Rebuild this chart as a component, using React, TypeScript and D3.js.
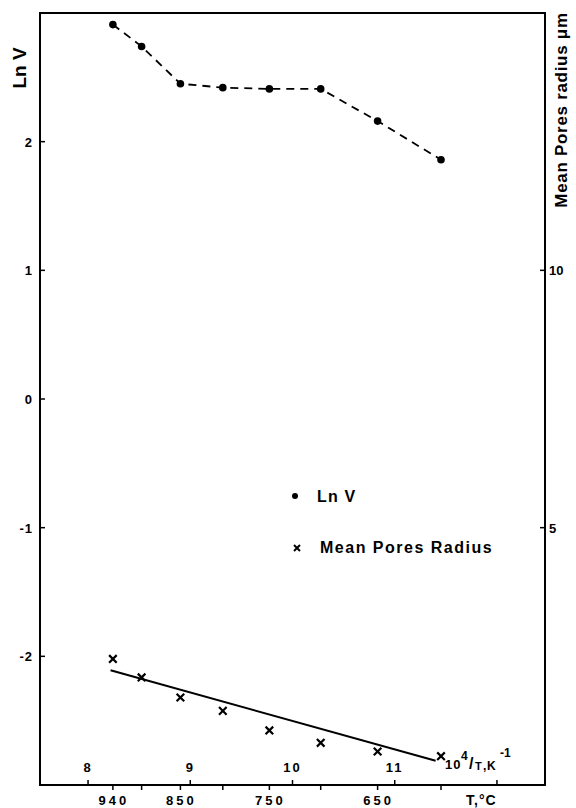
import React from 'react';
import * as d3 from 'd3';

// temperature (°C) of each measurement
const temps = [940, 900, 850, 800, 750, 700, 650, 600];
const lnV = [2.91, 2.74, 2.45, 2.42, 2.41, 2.41, 2.16, 1.86];
const radius = [2.45, 2.09, 1.70, 1.44, 1.06, 0.82, 0.65, 0.56];
// fitted straight line through the radius points (10^4/T, radius)
const fitInvT = [8.22, 11.40];
const fitRadius = [2.23, 0.47];

const lnTicks = [-2, -1, 0, 1, 2];
const radiusTicks = [5, 10];
const invTTicks = [8, 9, 10, 11, 12];
const invTLabels = ['8', '9', '10', '11', ''];
const tempTicks = [940, 900, 850, 800, 750, 700, 650, 600];
const tempLabels = ['940', '', '850', '', '750', '', '650', ''];

const W = 576, H = 808;
const left = 40, right = 545, top = 13, bottom = 785;
const font = '"Liberation Sans", Arial, sans-serif';

const invT = (t: number) => 1e4 / (t + 273.15);

function App() {
  const x = d3.scaleLinear().domain([7.53, 12.47]).range([left, right]);
  const yL = d3.scaleLinear().domain([-3, 3]).range([bottom, top]);
  const yR = d3.scaleLinear().domain([0, 15]).range([bottom, top]);

  const lnLine = d3.line<number>()
    .x((d, i) => x(invT(temps[i])))
    .y(d => yL(d));
  const fitLine = d3.line<number>()
    .x((d, i) => x(fitInvT[i]))
    .y(d => yR(d));

  const cross = (cx: number, cy: number, s = 3.8) =>
    `M${cx - s},${cy - s}L${cx + s},${cy + s}M${cx - s},${cy + s}L${cx + s},${cy - s}`;

  return (
    <svg width={W} height={H} style={{position: 'absolute', left: 0, top: 0, background: '#fff'}}
      fontFamily={font} fontWeight="bold">
      {/* frame */}
      <rect x={left} y={top} width={right - left} height={bottom - top} fill="none" stroke="#000" strokeWidth={2} />

      {/* left axis */}
      {lnTicks.map(t => (
        <g key={'l' + t}>
          <line x1={left} x2={left + 5} y1={yL(t)} y2={yL(t)} stroke="#000" strokeWidth={1.5} />
          <text x={33} y={yL(t) + 5} textAnchor="end" fontSize={13} letterSpacing={1}>{t < 0 ? '-' + Math.abs(t) : t}</text>
        </g>
      ))}
      <text transform={`translate(26,68) rotate(-90)`} textAnchor="middle" fontSize={19}>Ln V</text>

      {/* right axis */}
      {radiusTicks.map(t => (
        <g key={'r' + t}>
          <line x1={right - 5} x2={right} y1={yR(t)} y2={yR(t)} stroke="#000" strokeWidth={1.5} />
          <text x={549} y={yR(t) + 5} fontSize={13}>{t}</text>
        </g>
      ))}
      <text transform={`translate(567,110) rotate(-90)`} textAnchor="middle" fontSize={17} letterSpacing={0.7}>
        Mean Pores radius  μm
      </text>

      {/* bottom: 10^4/T ticks above the axis */}
      {invTTicks.map((t, i) => (
        <g key={'u' + t}>
          <line x1={x(t)} x2={x(t)} y1={bottom} y2={bottom - 5} stroke="#000" strokeWidth={1.5} />
          <text x={x(t)} y={772} textAnchor="middle" fontSize={13} letterSpacing={2}>{invTLabels[i]}</text>
        </g>
      ))}
      {/* bottom: temperature ticks below the axis */}
      {tempTicks.map((t, i) => (
        <g key={'t' + t}>
          <line x1={x(invT(t))} x2={x(invT(t))} y1={bottom} y2={bottom + 5} stroke="#000" strokeWidth={1.5} />
          <text x={x(invT(t)) + 1} y={805} textAnchor="middle" fontSize={13} letterSpacing={3}>{tempLabels[i]}</text>
        </g>
      ))}
      {/* 10^4/T, K^-1 unit label */}
      <g>
        <text x={445} y={769} fontSize={13} letterSpacing={1}>10</text>
        <text x={461} y={760} fontSize={12}>4</text>
        <text x={469} y={769} fontSize={16}>/</text>
        <text x={475} y={770} fontSize={11}>T</text>
        <text x={483} y={770} fontSize={12}>,</text>
        <text x={487} y={770} fontSize={12}>K</text>
        <text x={500} y={757} fontSize={12}>-1</text>
      </g>
      <text x={466} y={805} fontSize={14} letterSpacing={1}>T,°C</text>

      {/* Ln V series */}
      <path d={lnLine(lnV) || ''} fill="none" stroke="#000" strokeWidth={1.8} strokeDasharray="8,6" />
      {lnV.map((v, i) => (
        <circle key={'c' + i} cx={x(invT(temps[i]))} cy={yL(v)} r={3.8} fill="#000" />
      ))}

      {/* Mean pores radius series */}
      <path d={fitLine(fitRadius) || ''} fill="none" stroke="#000" strokeWidth={2} />
      {radius.map((v, i) => (
        <path key={'x' + i} d={cross(x(invT(temps[i])), yR(v))} stroke="#000" strokeWidth={2.2} fill="none" />
      ))}

      {/* legend */}
      <circle cx={295} cy={496} r={3} fill="#000" />
      <text x={317} y={502} fontSize={16} letterSpacing={1.2}>Ln V</text>
      <path d={cross(297, 548, 3)} stroke="#000" strokeWidth={2} fill="none" />
      <text x={320} y={553} fontSize={16} letterSpacing={1.5}>Mean Pores Radius</text>
    </svg>
  );
}

export default App;
